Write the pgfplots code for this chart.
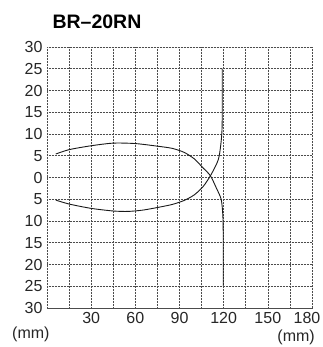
\documentclass[border=0pt]{standalone}
\usepackage{pgfplots}
\pgfplotsset{compat=1.18}
\usepackage{fontspec}
\setmainfont{Liberation Sans}
\begin{document}
\begin{tikzpicture}[x=1pt,y=1pt]
\useasboundingbox (0,0) rectangle (322,347);
\begin{axis}[
  at={(47pt,39pt)}, anchor=south west,
  scale only axis, width=265pt, height=261pt,
  xmin=0, xmax=180, ymin=-30, ymax=30,
  xtick={30,60,90,120,150}, xticklabels={30,60,90,120,150},
  minor xtick={15,45,75,105,135,165},
  extra x ticks={180}, extra x tick labels={180},
  extra x tick style={grid=none, xticklabel style={xshift=-5pt}},
  ytick={-30,-25,...,30},
  yticklabels={30,25,20,15,10,5,0,5,10,15,20,25,30},
  grid=both,
  major grid style={black!70, dash pattern=on 1pt off 0.5pt, line width=0.55pt},
  minor grid style={black!70, dash pattern=on 1pt off 0.5pt, line width=0.55pt},
  axis line style={black!70, dash pattern=on 1pt off 0.5pt, line width=0.55pt},
  major tick length=0pt, minor tick length=0pt,
  tick label style={font=\fontsize{16}{16}\selectfont, text=black!85},
  xticklabel style={yshift=-1pt},
  yticklabel style={xshift=-1pt},
  /pgf/number format/assume math mode=true,
]
\addplot[black!90, line width=0.9pt, smooth, tension=0.45] coordinates {
 (6,5.4) (15,6.4) (30,7.3) (45,7.9) (60,7.8) (75,7.2) (85,6.7) (93,5.8) (100,4.3)
 (106,2.2) (111,0.4) (115,-2.4) (118.3,-5) (119.4,-8.5) (119.7,-13) (119.7,-25)
};
\addplot[black!90, line width=0.9pt, smooth, tension=0.45] coordinates {
 (6,-5.2) (15,-6.1) (30,-7.1) (45,-7.7) (55,-7.8) (65,-7.5) (75,-6.9) (85,-6.2) (93,-5.3) (100,-4.0)
 (106,-2.1) (111,0.4) (115.3,3.2) (117,5) (118.5,9) (119,13) (119,25)
};
\end{axis}
\node[anchor=base west, font=\bfseries\fontsize{19.5}{19.5}\selectfont] at (49,318) {BR--20RN};
\node[anchor=base west, font=\fontsize{16}{16}\selectfont, inner sep=0pt, text=black!85] at (12,8.5) {(mm)};
\node[anchor=base east, font=\fontsize{16}{16}\selectfont, inner sep=0pt, text=black!85] at (315,5.5) {(mm)};
\end{tikzpicture}
\end{document}
